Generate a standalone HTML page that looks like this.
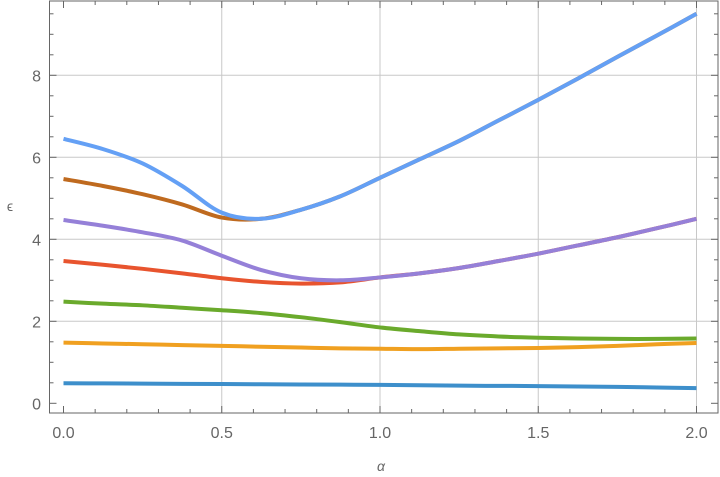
<!DOCTYPE html>
<html><head><meta charset="utf-8"><style>
body{margin:0;background:#fff}
svg{display:block;font-family:"Liberation Sans",sans-serif}
</style></head><body>
<svg id="chart" width="720" height="477"></svg>
<script>
const xs=[0,0.125,0.25,0.375,0.5,0.625,0.75,0.875,1.0,1.125,1.25,1.375,1.5,1.625,1.75,1.875,2.0];
const sBlue=[0.49,0.485,0.48,0.475,0.47,0.465,0.46,0.455,0.45,0.44,0.43,0.425,0.42,0.41,0.40,0.385,0.37];
const sOrange=[1.48,1.46,1.44,1.42,1.40,1.38,1.36,1.34,1.33,1.32,1.33,1.34,1.35,1.37,1.40,1.44,1.47];
const sGreen=[2.48,2.43,2.39,2.33,2.27,2.20,2.10,1.98,1.85,1.76,1.68,1.63,1.60,1.58,1.57,1.57,1.58];
const sRed=[3.47,3.38,3.28,3.17,3.05,2.96,2.92,2.95,3.07,3.17,3.30,3.47,3.65,3.85,4.05,4.27,4.50];
const sPurple=[4.47,4.33,4.17,3.97,3.60,3.25,3.05,3.00,3.07,3.17,3.30,3.47,3.65,3.85,4.05,4.27,4.50];
const sBrown=[5.47,5.30,5.10,4.85,4.53,4.50,4.72,5.05,5.50,5.95,6.40,6.90,7.40,7.92,8.45,8.97,9.50];
const sLight=[6.45,6.20,5.85,5.30,4.65,4.50,4.72,5.05,5.50,5.95,6.40,6.90,7.40,7.92,8.45,8.97,9.50];
const seriesList=[[sBlue,'#3d8fcb','series-1'],[sOrange,'#f0a020','series-2'],[sGreen,'#6aaa2c','series-3'],[sRed,'#e8542e','series-4'],[sPurple,'#9580d8','series-5'],[sBrown,'#bf6a1f','series-6'],[sLight,'#64a0f5','series-7']];
const xTicks=[0,0.5,1.0,1.5,2.0];
const xTickLabels=['0.0','0.5','1.0','1.5','2.0'];
const yTicks=[0,2,4,6,8];
const yTickLabels=['0','2','4','6','8'];
const X=v=>63.5+v*316.5, Y=v=>403.3-v*41;
const L=49.5,R=718,T=1,B=413;
const svg=document.getElementById('chart');
const NS='http://www.w3.org/2000/svg';
function mk(t,a){const e=document.createElementNS(NS,t);for(const k in a)e.setAttribute(k,a[k]);svg.appendChild(e);return e;}
xTicks.forEach(v=>{if(v>0){const g=mk('line',{x1:X(v),x2:X(v),y1:T,y2:B,stroke:'#c8c8c8','stroke-width':1});
}});
yTicks.forEach(v=>{if(v>0){const g=mk('line',{x1:L,x2:R,y1:Y(v),y2:Y(v),stroke:'#c8c8c8','stroke-width':1});
}});
const fr=mk('rect',{x:L,y:T,width:R-L,height:B-T,fill:'none',stroke:'#666','stroke-width':1});

for(let i=0;i<=20;i++){const v=i/10,maj=i%5==0,len=maj?7:4;
mk('line',{x1:X(v),x2:X(v),y1:B,y2:B-len,stroke:'#666'});mk('line',{x1:X(v),x2:X(v),y1:T,y2:T+len,stroke:'#666'});}
for(let i=0;i<=19;i++){const v=i/2,maj=i%4==0,len=maj?7:4;if(Y(v)<T)continue;
mk('line',{x1:L,x2:L+len,y1:Y(v),y2:Y(v),stroke:'#666'});mk('line',{x1:R,x2:R-len,y1:Y(v),y2:Y(v),stroke:'#666'});}
xTicks.forEach((v,i)=>{const t=mk('text',{x:X(v),y:438,'text-anchor':'middle','font-size':16,fill:'#666'});t.textContent=xTickLabels[i];
});
yTicks.forEach((v,i)=>{const t=mk('text',{x:41,y:Y(v)+6,'text-anchor':'end','font-size':16,fill:'#666'});t.textContent=yTickLabels[i];
});
const xt=mk('text',{x:381,y:471,'text-anchor':'middle','font-size':14,fill:'#666','font-style':'italic'});xt.textContent='α';

const yt=mk('text',{x:10,y:211,'text-anchor':'middle','font-size':14,fill:'#666'});yt.textContent='ϵ';

function path(vals){const p=xs.map((x,i)=>[X(x),Y(vals[i])]);let d='M'+p[0][0]+','+p[0][1];
for(let i=0;i<p.length-1;i++){const p0=p[Math.max(0,i-1)],p1=p[i],p2=p[i+1],p3=p[Math.min(p.length-1,i+2)];
const c1=[p1[0]+(p2[0]-p0[0])/6,p1[1]+(p2[1]-p0[1])/6],c2=[p2[0]-(p3[0]-p1[0])/6,p2[1]-(p3[1]-p1[1])/6];
d+=`C${c1[0]},${c1[1]} ${c2[0]},${c2[1]} ${p2[0]},${p2[1]}`;}return d;}
seriesList.forEach(s=>{const e=mk('path',{d:path(s[0]),fill:'none',stroke:s[1],'stroke-width':4,'stroke-linecap':'butt'});
});
</script>
</body></html>
